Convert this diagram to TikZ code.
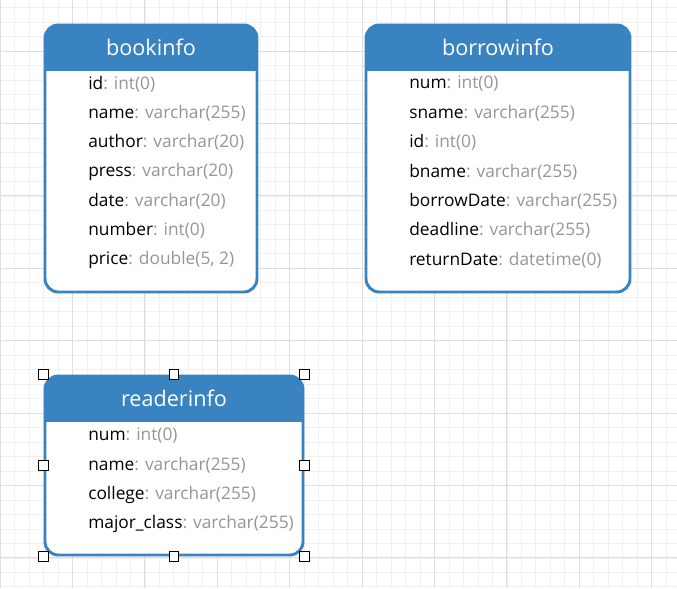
\documentclass[tikz,border=0pt]{standalone}
\usepackage{fontspec}
\setmainfont{Open Sans}
\usepackage{xcolor}
\usetikzlibrary{positioning}
\definecolor{erblue}{RGB}{58,131,193}
\definecolor{typegray}{RGB}{150,150,150}
\definecolor{minorgrid}{RGB}{240,240,240}
\definecolor{majorgrid}{RGB}{222,222,222}
\newcommand{\ty}[1]{\textcolor{typegray}{#1}}

\begin{document}
\begin{tikzpicture}[
  x=0.75pt, y=-0.75pt,
  tbl/.style={fill=white, draw=erblue, line width=2.2pt, rounded corners=10pt, inner sep=0pt,
    path picture={\fill[erblue, sharp corners] (path picture bounding box.north west) rectangle ([yshift=-34.5pt]path picture bounding box.north east);}},
  hdr/.style={text=white, font=\fontsize{16.2}{18}\selectfont, inner sep=0pt},
  fld/.style={anchor=west, font=\fontsize{13}{15}\selectfont, inner sep=0pt},
  handle/.style={draw=black, fill=white, line width=0.7pt, minimum size=7.3pt, inner sep=0pt}
]
  \useasboundingbox[fill=white] (0,0) rectangle (677,588);
  % grid
  \foreach \i in {0,...,46} {
    \draw[minorgrid, line width=0.6pt] (0.1+\i*14.48,0) -- (0.1+\i*14.48,588);
  }
  \foreach \i in {0,...,40} {
    \draw[minorgrid, line width=0.6pt] (0,7.66+\i*14.48) -- (677,7.66+\i*14.48);
  }
  \foreach \i in {0,...,9} {
    \draw[majorgrid, line width=0.7pt] (0.1+\i*72.4,0) -- (0.1+\i*72.4,588);
  }
  \foreach \i in {0,...,8} {
    \draw[majorgrid, line width=0.7pt] (0,51.1+\i*72.4-72.4) -- (677,51.1+\i*72.4-72.4);
  }

  % tables
  \node[tbl, minimum width=212*0.75pt, minimum height=267*0.75pt] (bookinfo) at (151,158.5) {};
  \node[tbl, minimum width=264*0.75pt, minimum height=267*0.75pt] (borrowinfo) at (498,158.5) {};
  \node[tbl, minimum width=258*0.75pt, minimum height=179*0.75pt] (readerinfo) at (174,465.5) {};

  \node[hdr] (bookinfo-title) at ([yshift=-17.6pt]bookinfo.north) {bookinfo};
  \node[hdr] (borrowinfo-title) at ([yshift=-17.6pt]borrowinfo.north) {borrowinfo};
  \node[hdr] (readerinfo-title) at ([yshift=-17.6pt]readerinfo.north) {readerinfo};

  % fields
  \foreach \f/\t [count=\i] in {id/int(0), name/varchar(255), author/varchar(20), press/varchar(20),
      date/varchar(20), number/int(0), price/{double(5, 2)}}
    \node[fld] (bookinfo-\i) at (88,84+\i*29.3-29.3) {\f\ty{: \t}};
  \foreach \f/\t [count=\i] in {num/int(0), sname/varchar(255), id/int(0), bname/varchar(255),
      borrowDate/varchar(255), deadline/varchar(255), returnDate/datetime(0)}
    \node[fld] (borrowinfo-\i) at (409,84+\i*29.3-29.3) {\f\ty{: \t}};
  \foreach \f/\t [count=\i] in {num/int(0), name/varchar(255), college/varchar(255),
      major\_class/varchar(255)}
    \node[fld] (readerinfo-\i) at (88,436+\i*29.3-29.3) {\f\ty{: \t}};

  % selection handles
  \foreach \a [count=\i] in {north west, north, north east, east, south east, south, south west, west}
    \node[handle] (handle-\i) at (readerinfo.\a) {};
\end{tikzpicture}
\end{document}
